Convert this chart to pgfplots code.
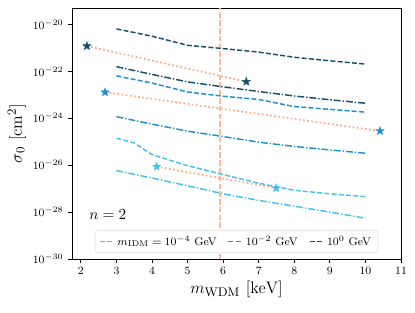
\documentclass[border=0pt]{standalone}
\usepackage{pgfplots}
\pgfplotsset{compat=1.18}
\definecolor{cdark}{RGB}{20,80,110}
\definecolor{cmid}{RGB}{30,144,210}
\definecolor{clight}{RGB}{72,192,240}
\definecolor{corange}{RGB}{255,165,125}
\definecolor{cvline}{RGB}{255,185,155}
\pgfdeclareplotmark{fstar}{%
  \pgfpathmoveto{\pgfpointpolar{90}{\pgfplotmarksize}}%
  \pgfpathlineto{\pgfpointpolar{126}{0.42\pgfplotmarksize}}%
  \pgfpathlineto{\pgfpointpolar{162}{\pgfplotmarksize}}%
  \pgfpathlineto{\pgfpointpolar{198}{0.42\pgfplotmarksize}}%
  \pgfpathlineto{\pgfpointpolar{234}{\pgfplotmarksize}}%
  \pgfpathlineto{\pgfpointpolar{270}{0.42\pgfplotmarksize}}%
  \pgfpathlineto{\pgfpointpolar{306}{\pgfplotmarksize}}%
  \pgfpathlineto{\pgfpointpolar{342}{0.42\pgfplotmarksize}}%
  \pgfpathlineto{\pgfpointpolar{18}{\pgfplotmarksize}}%
  \pgfpathlineto{\pgfpointpolar{54}{0.42\pgfplotmarksize}}%
  \pgfpathclose
  \pgfusepathqfillstroke}
\tikzset{
  dsh/.style={line width=1.05pt, dash pattern=on 3.6pt off 1.6pt},
  dshdot/.style={line width=1.05pt, dash pattern=on 5pt off 1.4pt on 1pt off 1.4pt},
  dotl/.style={color=corange, line width=1.2pt, dash pattern=on 1.2pt off 1.8pt},
}
\begin{document}
\begin{tikzpicture}
\path[use as bounding box] (-51.84pt,-38.16pt) rectangle (246.96pt,186.48pt);
\begin{axis}[
  scale only axis,
  width=236.9pt, height=180.7pt,
  xmin=1.75, xmax=11,
  ymode=log, ymin=1e-30, ymax=5.01e-20,
  xtick={2,3,4,5,6,7,8,9,10,11},
  ytick={1e-30,1e-28,1e-26,1e-24,1e-22,1e-20},
  minor ytick={}, minor xtick={},
  tick align=outside, xtick pos=bottom, ytick pos=left,
  major tick length=2.6pt,
  tick style={black, line width=0.6pt},
  axis line style={line width=0.7pt},
  ticklabel style={font=\fontsize{8}{9}\selectfont},
  xlabel={$m_{\rm WDM}\ [\rm keV]$},
  ylabel={$\sigma_0\ [{\rm cm}^2]$},
  label style={font=\fontsize{13}{15}\selectfont},
  xlabel style={yshift=2pt},
  ylabel style={yshift=-2pt},
  legend columns=3,
  legend style={at={(0.5,0.024)}, anchor=south, draw=black!15, rounded corners=2pt,
    fill=white, font=\fontsize{8}{9}\selectfont, inner xsep=3pt, inner ysep=2pt,
    /tikz/every even column/.append style={column sep=6pt}},
  legend image code/.code={\draw[#1] (0pt,0pt) -- (10pt,0pt);},
]
% vertical line
\addplot[forget plot, color=cvline, line width=1.3pt, dash pattern=on 4pt off 1.6pt] coordinates {(5.91,1e-31) (5.91,1e-18)};
% orange dotted connectors
\addplot[forget plot, dotl] coordinates {(2.17,1.20e-21) (6.65,3.63e-23)};
\addplot[forget plot, dotl] coordinates {(2.68,1.29e-23) (10.41,2.88e-25)};
\addplot[forget plot, dotl] coordinates {(4.13,8.71e-27) (7.49,1.05e-27)};
% light (1e-4 GeV)
\addplot[clight, dsh] coordinates {(3,1.41e-25) (3.5,8.91e-26) (4,2.82e-26) (5,9.55e-27) (6,3.98e-27) (7,1.70e-27) (8,8.51e-28) (9,6.03e-28) (10,4.57e-28)};
\addlegendentry{$m_{\rm IDM} = 10^{-4}$ GeV}
% mid (1e-2 GeV)
\addplot[cmid, dsh] coordinates {(3,6.46e-23) (4,3.16e-23) (5,1.32e-23) (6,8.71e-24) (7,6.31e-24) (8,3.16e-24) (9,2.40e-24) (10,1.82e-24)};
\addlegendentry{$10^{-2}$ GeV}
% dark (1 GeV)
\addplot[cdark, dsh] coordinates {(3,6.46e-21) (4,3.16e-21) (5,1.29e-21) (6,9.33e-22) (7,6.61e-22) (8,3.98e-22) (9,2.82e-22) (10,2.04e-22)};
\addlegendentry{$10^{0}$ GeV}
% dash-dot
\addplot[forget plot, clight, dshdot] coordinates {(3,5.89e-27) (4,2.82e-27) (5,1.32e-27) (6,6.03e-28) (7,3.16e-28) (8,1.78e-28) (9,1.00e-28) (10,5.50e-29)};
\addplot[forget plot, cmid, dshdot] coordinates {(3,1.17e-24) (4,5.62e-25) (5,2.82e-25) (6,1.66e-25) (7,9.55e-26) (8,6.31e-26) (9,4.47e-26) (10,3.24e-26)};
\addplot[forget plot, cdark, dshdot] coordinates {(3,1.58e-22) (4,7.41e-23) (5,3.55e-23) (6,2.19e-23) (7,1.38e-23) (8,8.91e-24) (9,6.17e-24) (10,4.37e-24)};
% stars
\addplot[forget plot, only marks, mark=fstar, mark size=3.1pt, cdark, mark options={line width=0.3pt}] coordinates {(2.17,1.20e-21) (6.65,3.63e-23)};
\addplot[forget plot, only marks, mark=fstar, mark size=3.1pt, cmid, mark options={line width=0.3pt}] coordinates {(2.68,1.29e-23) (10.41,2.88e-25)};
\addplot[forget plot, only marks, mark=fstar, mark size=3.1pt, clight, mark options={line width=0.3pt}] coordinates {(4.13,8.71e-27) (7.49,1.05e-27)};
\node[anchor=west, font=\fontsize{10.5}{12}\selectfont] at (axis cs:2.1,7.8e-29) {$n=2$};
\end{axis}
\end{tikzpicture}
\end{document}
